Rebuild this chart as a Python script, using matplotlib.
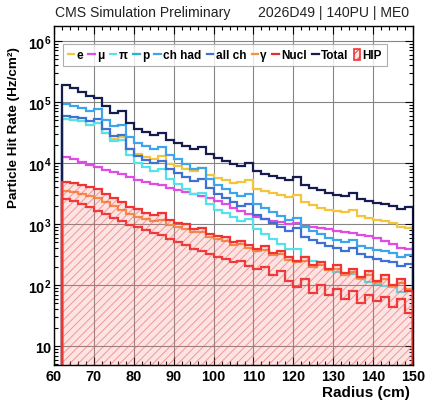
import numpy as np
import matplotlib
matplotlib.use('Agg')
import matplotlib.pyplot as plt
from matplotlib.patches import Patch
from matplotlib.lines import Line2D
from matplotlib.ticker import FixedLocator, LogLocator, MultipleLocator, NullFormatter, FuncFormatter

plt.rcParams['font.family'] = ['Liberation Sans', 'DejaVu Sans']
plt.rcParams['font.weight'] = 'bold'
plt.rcParams['mathtext.fontset'] = 'custom'
plt.rcParams['mathtext.rm'] = 'Liberation Sans:bold'
plt.rcParams['mathtext.bf'] = 'Liberation Sans:bold'
plt.rcParams['mathtext.it'] = 'Liberation Sans:bold'
plt.rcParams['hatch.linewidth'] = 0.7

# ---------------- data (2 cm bins from 62 to 150 cm) ----------------
bin_edges = list(range(62, 152, 2))

total = [1.9e5, 1.7e5, 1.46e5, 1.25e5, 1.16e5, 8.6e4, 6.6e4, 7.1e4, 4.5e4, 3.6e4, 3.2e4, 2.9e4, 3.1e4,
         2.4e4, 2.1e4, 1.9e4, 1.7e4, 1.83e4, 1.4e4, 1.21e4, 1.08e4, 9.6e3, 8.9e3, 1.0e4, 7.4e3, 6.6e3,
         6.1e3, 5.7e3, 5.3e3, 5.9e3, 4.4e3, 3.9e3, 3.6e3, 3.2e3, 3.0e3, 2.9e3, 3.2e3, 2.6e3, 2.4e3,
         2.2e3, 2.1e3, 2.0e3, 1.76e3, 1.9e3]
ch_had = [9.3e4, 8.6e4, 8.0e4, 7.1e4, 7.7e4, 5.1e4, 4.0e4, 4.2e4, 2.7e4, 2.1e4, 1.9e4, 1.7e4, 1.83e4,
          1.35e4, 1.16e4, 9.6e3, 8.0e3, 8.3e3, 5.5e3, 4.4e3, 3.7e3, 3.2e3, 2.9e3, 3.1e3, 2.1e3, 1.83e3,
          1.57e3, 1.35e3, 1.16e3, 1.25e3, 890, 770, 690, 590, 550, 510, 550, 440, 400, 375, 360, 335,
          290, 310]
electron = [5.3e4, 5.1e4, 4.9e4, 4.2e4, 4.5e4, 3.1e4, 2.5e4, 2.7e4, 1.7e4, 1.4e4, 1.25e4, 1.16e4, 1.3e4,
            9.6e3, 8.9e3, 8.0e3, 7.4e3, 8.3e3, 6.4e3, 5.7e3, 5.3e3, 4.7e3, 4.9e3, 5.3e3, 3.7e3, 3.5e3,
            3.2e3, 3.0e3, 2.8e3, 3.0e3, 2.3e3, 2.05e3, 1.83e3, 1.7e3, 1.63e3, 1.57e3, 1.7e3, 1.35e3,
            1.25e3, 1.16e3, 1.12e3, 1.04e3, 890, 860]
all_ch = [5.9e4, 5.7e4, 5.5e4, 4.9e4, 5.3e4, 3.6e4, 2.8e4, 2.9e4, 1.7e4, 1.3e4, 1.12e4, 1.0e4, 1.08e4,
          8.0e3, 6.9e3, 5.9e3, 5.1e3, 5.5e3, 3.9e3, 3.1e3, 2.7e3, 2.3e3, 2.0e3, 2.1e3, 1.4e3, 1.21e3,
          1.04e3, 890, 770, 860, 610, 550, 490, 440, 400, 360, 400, 320, 290, 270, 250, 240, 205, 220]
pion = [5.3e4, 5.1e4, 4.9e4, 4.2e4, 4.5e4, 3.1e4, 2.3e4, 2.4e4, 1.35e4, 1.0e4, 8.6e3, 7.4e3, 8.0e3,
        5.5e3, 4.5e3, 3.7e3, 3.1e3, 3.2e3, 2.1e3, 1.7e3, 1.51e3, 1.3e3, 1.12e3, 1.21e3, 830, 690, 570,
        470, 390, 390, 290, 250, 210, 183, 163, 146, 151, 125, 112, 104, 96, 93, 77, 86]
proton = [4.5, 4.4, 4.2, 4.0, 3.9, 3.7, 3.5, 3.4, 3.2, 3.1, 3.0, 2.9, 2.8, 2.7, 2.6, 2.5, 2.4, 2.3, 2.2,
          2.2, 2.1, 2.0, 2.0, 1.9, 1.8, 1.8, 1.7, 1.7, 1.6, 1.6, 1.5, 1.5, 1.4, 1.4, 1.4, 1.3, 1.3, 1.3,
          1.2, 1.2, 1.2, 1.1, 1.1, 1.1]
muon = [1.25e4, 1.16e4, 1.04e4, 9.3e3, 8.6e3, 7.7e3, 7.1e3, 6.6e3, 5.9e3, 5.3e3, 4.9e3, 4.5e3, 4.4e3,
        3.9e3, 3.6e3, 3.35e3, 3.1e3, 2.9e3, 2.7e3, 2.4e3, 2.1e3, 1.83e3, 1.63e3, 1.46e3, 1.3e3, 1.21e3,
        1.12e3, 1.08e3, 1.0e3, 1.04e3, 930, 890, 860, 830, 770, 740, 710, 660, 640, 590, 530, 470, 400, 390]
hip = [4.9e3, 4.7e3, 4.4e3, 4.0e3, 3.7e3, 3.1e3, 2.7e3, 2.3e3, 1.9e3, 1.76e3, 1.51e3, 1.4e3, 1.51e3,
       1.16e3, 1.04e3, 1.0e3, 830, 860, 690, 640, 610, 510, 530, 450, 390, 440, 335, 360, 290, 250, 290,
       210, 240, 183, 210, 157, 183, 135, 170, 116, 146, 100, 125, 80]
gamma = [3.5e3, 3.35e3, 3.1e3, 2.9e3, 2.7e3, 2.3e3, 2.0e3, 1.7e3, 1.46e3, 1.3e3, 1.21e3, 1.12e3, 1.16e3,
         960, 890, 830, 740, 740, 610, 570, 530, 450, 470, 400, 360, 375, 310, 320, 257, 240, 250, 197,
         210, 176, 183, 146, 163, 130, 146, 112, 125, 96, 108, 86]
nucl = [2.6e3, 2.4e3, 2.1e3, 1.9e3, 1.63e3, 1.46e3, 1.25e3, 1.12e3, 960, 890, 800, 710, 660, 570, 510,
        450, 390, 360, 320, 290, 270, 240, 250, 205, 183, 197, 146, 170, 116, 93, 125, 74, 100, 69, 86,
        59, 80, 51, 69, 55, 64, 44, 59, 35]

x_ticks = [60, 70, 80, 90, 100, 110, 120, 130, 140, 150]
y_ticks = [10, 1e2, 1e3, 1e4, 1e5, 1e6]

colors = {
    'e': '#f3c43c', 'mu': '#e04ce4', 'pi': '#55e2ea', 'p': '#27b4cc',
    'chhad': '#3ea4ec', 'allch': '#3f70d4', 'gamma': '#f7923c', 'nucl': '#ee2a2a',
    'total': '#161c4e', 'hip': '#ef3434',
}

fig = plt.figure(figsize=(4.4, 4.02), dpi=100)
ax = fig.add_axes([54 / 440, 36 / 402, 359 / 440, 339 / 402])
ax.set_yscale('log')

lw = 1.6
series = [
    (proton, 'p'), (electron, 'e'), (muon, 'mu'), (pion, 'pi'), (all_ch, 'allch'), (ch_had, 'chhad'),
    (gamma, 'gamma'), (nucl, 'nucl'), (total, 'total'),
]
for i, (vals, key) in enumerate(series):
    ax.stairs(vals, bin_edges, baseline=1.0, color=colors[key], lw=lw, zorder=3 + i * 0.01)

# HIP: translucent hatched area drawn on top, with red outline
ax.stairs(hip, bin_edges, baseline=1.0, fill=True, facecolor=(0.98, 0.45, 0.45, 0.2),
          edgecolor=(0.88, 0.35, 0.35, 0.55), hatch='////', linewidth=0, zorder=3.2)
ax.stairs(hip, bin_edges, baseline=1.0, color=colors['hip'], lw=lw, zorder=3.3)

ax.set_xlim(60, 150)
ax.set_ylim(4.9, 1.76e6)
ax.xaxis.set_major_locator(FixedLocator(x_ticks))
ax.xaxis.set_minor_locator(MultipleLocator(2))
ax.yaxis.set_major_locator(FixedLocator(y_ticks))
ax.yaxis.set_minor_locator(LogLocator(base=10, subs=np.arange(2, 10), numticks=20))
ax.yaxis.set_minor_formatter(NullFormatter())


def yfmt(v, pos):
    e = int(round(np.log10(v)))
    return '10' if e == 1 else r'$10^{%d}$' % e


ax.yaxis.set_major_formatter(FuncFormatter(yfmt))
ax.tick_params(which='both', direction='in', top=True, right=True, labelsize=10.4, width=0.8)
ax.tick_params(which='major', length=6)
ax.tick_params(which='minor', length=3)
ax.tick_params(axis='y', pad=2)
ax.tick_params(axis='x', pad=3)

ax.set_axisbelow(False)
ax.grid(True, which='major', color='#858585', lw=0.8)
for s in ax.spines.values():
    s.set_linewidth(1.0)
    s.set_zorder(5)

ax.set_ylabel('Particle Hit Rate (Hz/cm²)', fontsize=9.7, fontweight='bold', loc='top')
ax.yaxis.set_label_coords(-0.095, 0.94)
ax.set_xlabel('Radius (cm)', fontsize=11, fontweight='bold', loc='right')
ax.xaxis.set_label_coords(0.992, -0.058)

fig.text(55 / 440, 1 - 17 / 402, 'CMS Simulation Preliminary', fontsize=10.1, fontweight='normal',
         ha='left', va='baseline', color='#222222')
fig.text(409 / 440, 1 - 17 / 402, '2026D49 | 140PU | ME0', fontsize=10.1, fontweight='normal',
         ha='right', va='baseline', color='#222222')

labels = ['e', 'μ', 'π', 'p', 'ch had', 'all ch', 'γ', 'Nucl', 'Total', 'HIP']
keys = ['e', 'mu', 'pi', 'p', 'chhad', 'allch', 'gamma', 'nucl', 'total']
handles = [Line2D([], [], color=colors[k], lw=lw) for k in keys]
handles.append(Patch(facecolor='#fde3e3', edgecolor=colors['hip'], hatch='////', lw=1.2))
leg = ax.legend(handles, labels, ncol=10, loc='upper left', bbox_to_anchor=(0.025, 0.947),
                borderaxespad=0, frameon=True, fancybox=False, edgecolor='#9a9a9a',
                handlelength=0.55, handleheight=1.1, handletextpad=0.2, columnspacing=0.45,
                borderpad=0.4, prop={'weight': 'bold', 'size': 8.5})
leg.get_frame().set_linewidth(0.8)
leg.set_zorder(6)

fig.savefig('out.png', dpi=100)
